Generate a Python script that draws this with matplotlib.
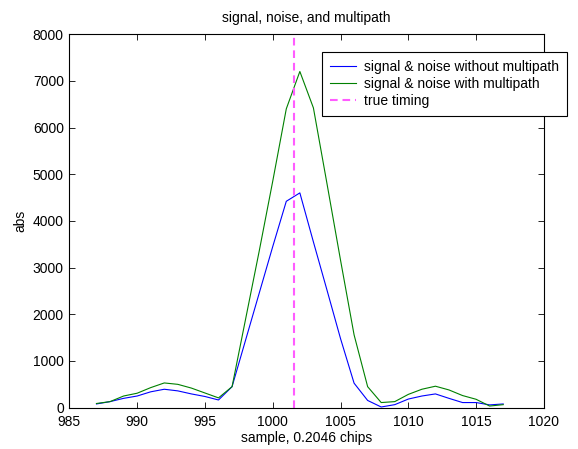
import numpy as np
import matplotlib
matplotlib.use("Agg")
from matplotlib import pyplot as plt

plt.rcParams['font.family'] = ['Liberation Sans', 'DejaVu Sans']
plt.rcParams['font.size'] = 10
plt.rcParams['lines.scale_dashes'] = False

# sample index (0.2046 chips per sample)
samples = np.arange(987, 1018)

# |correlation| without multipath
abs_clean = [80, 130, 200, 250, 340, 395, 360, 295, 240, 165,
             450, 1450, 2450, 3450, 4420, 4600, 3550, 2520, 1480, 525,
             155, 15, 65, 185, 250, 295, 200, 110, 110, 60, 80]

# |correlation| with multipath
abs_multi = [90, 130, 250, 310, 430, 530, 500, 420, 315, 210,
             450, 1900, 3350, 4850, 6400, 7200, 6420, 4800, 3160, 1560,
             450, 110, 130, 285, 395, 460, 380, 260, 180, 35, 65]

true_timing = 1001.6

fig = plt.figure(figsize=(5.78, 4.49), dpi=100)
ax = fig.add_axes([0.120, 0.092, 0.821, 0.832])

ax.plot(samples, abs_clean, color='#0000ff', linewidth=0.8,
        label='signal & noise without multipath')
ax.plot(samples, abs_multi, color='#008000', linewidth=0.8,
        label='signal & noise with multipath')
ax.axvline(true_timing, color='#ff5cff', linewidth=1.5, dashes=(5.5, 3.5),
           label='true timing')

ax.set_xlim(985, 1020)
ax.set_ylim(0, 8000)
ax.set_xticks(np.arange(985, 1021, 5))
ax.set_yticks(np.arange(0, 8001, 1000))
ax.tick_params(direction='in', top=True, right=True, length=4, width=0.6,
               labelsize=10)
ax.tick_params(axis='x', pad=5)
ax.tick_params(axis='y', pad=4)
for sp in ax.spines.values():
    sp.set_linewidth(0.8)

ax.set_title('signal, noise, and multipath', fontsize=10, pad=9)
ax.set_xlabel('sample, 0.2046 chips', fontsize=10, labelpad=2)
ax.set_ylabel('abs', fontsize=10, labelpad=4)

# legend box sticks out past the right edge of the axes, like the original
leg = ax.legend(loc='upper left', bbox_to_anchor=(321.7 / 578, 1 - 51.7 / 449),
                bbox_transform=fig.transFigure, fancybox=False, shadow=False,
                framealpha=1, edgecolor='black', fontsize=10,
                handlelength=1.85, handletextpad=0.6, borderpad=0.6,
                labelspacing=0.22, borderaxespad=0)
leg.get_frame().set_linewidth(0.8)

fig.savefig('out.png', dpi=100)
